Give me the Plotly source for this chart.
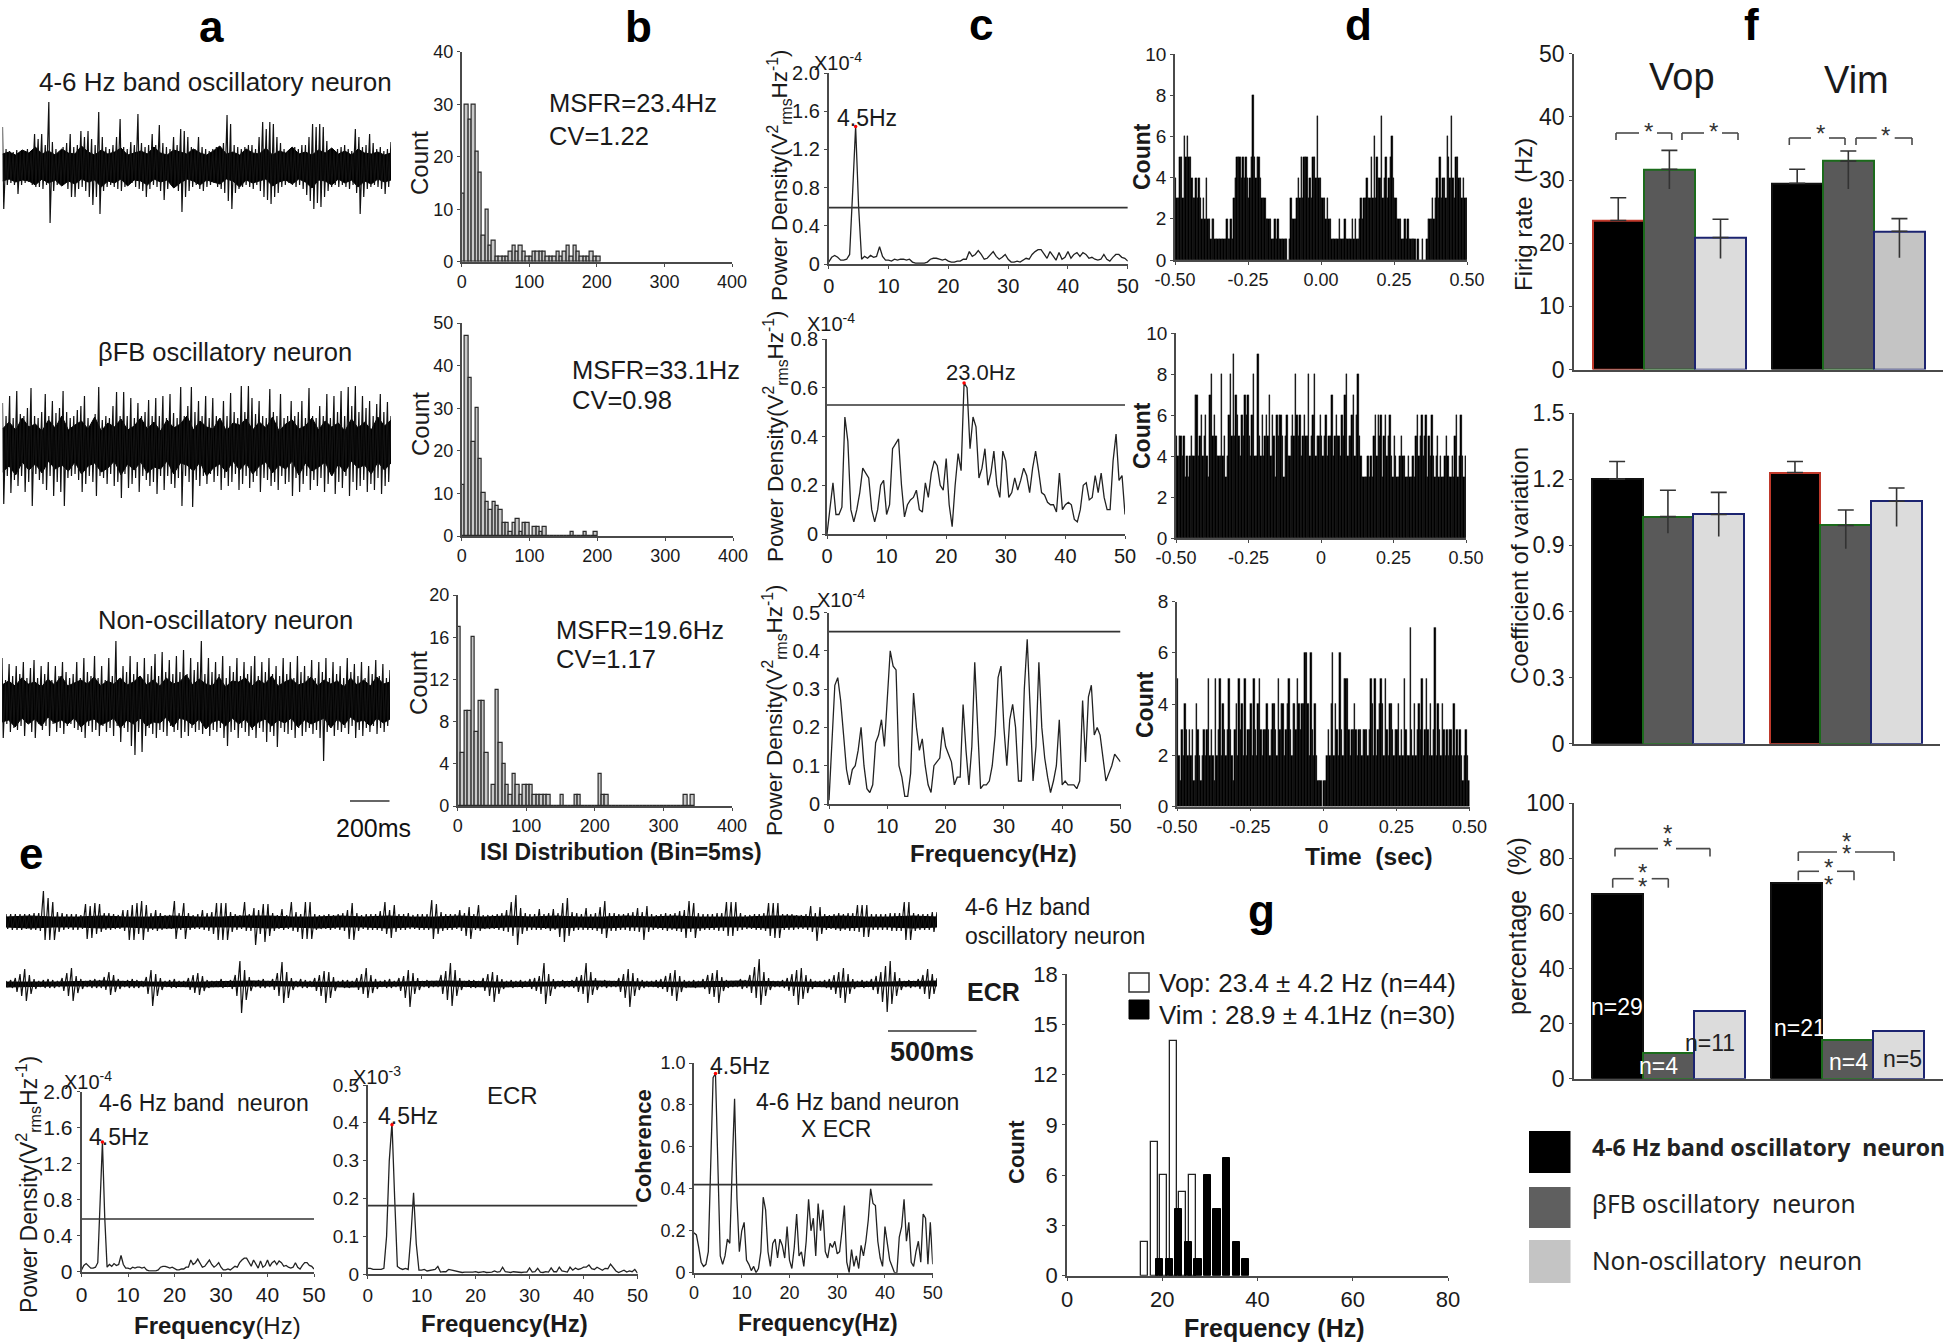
import plotly.graph_objects as go

W, H = 1946, 1344
FONT = "Liberation Sans"
INK = "#1a1a1a"
AXC = "#4a4a4a"

# ---------- raw trace amplitude columns (in display units) ----------
A1_UP = [40,18,16,15,17,15,16,18,15,33, 28,33,22,65,25,18,16,20,24,33, 20,22,36,30,36,28,22,55,30,20,
         18,22,30,48,20,18,25,22,53,24, 20,22,33,22,42,24,20,18,30,22, 38,36,30,20,18,30,20,18,16,18,
         20,18,24,52,43,22,20,18,20,22, 22,18,30,45,38,45,43,30,24,18, 16,18,20,18,22,22,30,43,40,43,
         40,26,18,16,18,20,22,18,16,38, 30,20,22,33,24,18,20,16,18,25]
A1_DN = [42,18,16,18,27,18,16,15,18,20, 20,22,18,56,24,18,18,16,22,30, 30,22,20,24,30,38,30,47,24,20,
         18,20,22,24,20,18,16,20,22,24, 30,22,18,20,24,33,22,18,20,24, 45,30,24,20,18,22,24,20,18,16,
         20,22,26,34,42,26,22,20,18,20, 22,18,24,30,33,37,30,26,20,18, 16,18,20,18,22,28,34,42,36,40,
         30,24,20,18,20,18,20,22,18,26, 47,30,22,20,18,20,22,27,20,18]
A1_BAND = [13,15,12,17,14,20,13,16,12,18,14,13,21,15,12,17,13,15,19,12,14,16,13,20,14,12,17,15,13,18,
           14,12,16,21,13,15,12,18,14,13,19,12,16,14,20,13,15,12,17,14,19,13,16,12,18,14,13,15,12,14]

A2_UP = [43,30,50,28,55,32,30,38,58,30, 28,34,52,30,45,33,38,55,34,28, 30,36,40,50,28,24,32,59,26,30,
         28,40,54,30,54,30,48,28,43,30, 34,46,30,48,30,50,28,52,33,28, 59,30,40,59,34,45,30,50,28,48,
         30,28,45,30,53,34,28,60,34,60, 48,32,45,30,28,57,34,30,52,28, 30,45,30,34,45,28,58,30,28,40,
         30,52,28,50,34,55,30,59,40,60, 34,50,38,45,30,42,52,34,44,30]
A2_DN = [58,30,47,34,40,30,46,36,60,28, 34,38,44,30,50,36,46,60,32,30, 28,34,46,38,30,36,50,30,32,38,
         28,40,36,52,28,42,38,32,46,30, 34,40,36,48,30,44,30,38,42,32, 60,30,36,61,34,40,30,38,28,36,
         30,44,32,40,36,28,44,38,30,42, 36,30,46,32,34,40,36,44,30,38, 36,50,32,46,38,30,44,34,40,32,
         46,38,30,48,36,42,30,50,36,44, 40,34,46,38,44,32,48,40,36,42]
A2_BAND = [17,24,16,28,19,22,15,26,18,30,16,21,25,17,29,15,23,19,27,16,20,28,17,24,15,26,18,22,30,16,
           25,19,17,28,15,23,21,27,16,24,18,29,15,22,26,17,20,28,16,25,19,23,15,27,18,24,16,29,20,26]

A3_UP = [44,22,38,26,36,28,40,24,34,42, 24,36,28,40,22,36,26,40,30,24, 28,40,24,44,30,26,46,24,36,22,
         44,26,61,24,36,30,46,28,40,24, 44,28,36,48,26,50,30,42,28,46, 30,52,28,44,32,40,61,28,44,30,
         40,28,46,24,36,30,44,26,40,28, 36,46,26,40,30,44,28,36,26,44, 28,40,24,46,30,36,26,42,24,40,
         30,44,24,40,28,36,24,44,30,38, 26,40,24,36,28,42,26,38,24,32]
A3_DN = [36,22,30,26,28,24,34,22,30,36, 22,28,24,34,22,30,26,32,24,22, 26,28,30,36,24,30,28,34,24,30,
         26,34,24,40,26,30,44,53,30,50, 34,26,32,36,28,30,34,24,30,28, 36,30,34,26,30,28,32,26,34,28,
         30,26,36,44,30,28,36,26,30,34, 28,36,26,30,40,30,34,45,26,30, 32,28,36,26,34,30,26,32,28,36,
         59,30,26,34,28,30,26,32,24,36, 28,34,26,30,24,32,26,30,24,28]
A3_BAND = [17,21,16,24,18,20,15,23,17,26,16,19,22,18,25,16,21,18,24,17,20,26,17,22,16,24,18,20,27,17,
           23,18,16,25,15,21,20,24,16,22,18,26,16,20,23,17,19,25,16,22,18,21,15,24,17,22,16,25,18,20]

E1_UP = [8,8,8,8,8,8,9,9,31,24, 20,10,9,8,8,8,7,18,16,19, 18,9,9,8,7,12,12,17,19,21, 17,9,12,9,7,7,21,9,19,9,
         7,8,12,9,10,19,19,19,10,8, 7,20,8,14,12,18,18,9,7,13, 7,20,10,8,20,20,8,7,7,8, 7,8,9,12,19,9,7,8,8,8,
         11,20,12,17,8,8,9,7,8,8, 8,22,18,10,8,8,8,12,9,15, 8,17,7,7,7,8,9,12,20,27, 14,9,8,8,13,8,9,13,9,19,
         24,10,9,8,14,8,9,15,21,9, 9,8,8,9,10,14,10,16,8,7, 8,9,8,9,11,12,21,19,9,8, 8,8,9,9,20,20,20,9,7,7,
         8,8,9,19,19,19,8,8,8,7, 7,8,16,9,15,8,7,8,9,8, 9,9,17,17,17,8,8,8,8,9, 9,9,20,20,9,8,8,8,10,10]
E1_DN = [7,8,8,8,7,8,8,9,18,18, 18,10,8,7,8,8,7,17,16,12, 10,8,8,7,7,9,18,18,12,18, 10,8,9,8,7,7,17,8,17,8,
         7,7,8,9,12,18,18,18,10,8, 7,9,9,23,12,20,14,9,7,8, 7,9,10,17,17,17,8,7,7,8, 7,8,9,17,18,9,7,8,8,8,
         9,12,16,10,8,8,7,7,8,8, 8,17,12,9,8,8,7,9,14,17, 8,9,7,7,7,8,9,10,14,23, 12,9,8,8,8,7,9,8,15,20,
         14,9,8,8,8,8,9,12,16,9, 9,8,8,9,9,10,18,10,8,7, 8,9,8,9,10,16,10,16,9,8, 8,8,9,9,14,14,9,8,7,7,
         8,8,9,14,16,16,8,8,8,7, 7,8,10,19,12,8,7,8,9,8, 9,9,10,15,15,8,8,8,8,9, 9,9,18,18,9,8,8,8,10,15]
E1_BAND = [5,6,5,5,6,5,5,6,5,5,6,6,5,5,6,5,6,5,5,6,5,6,5,6,5,5,6,5,6,5,5,5,6,6,5,6,5,5,6,5]

E2_UP = [3,4,6,10,15,9,5,3,4, 5,4,3,6,11,16,8,5,3, 4,5,4,7,12,9,5,3,4, 5,4,3,7,14,10,6,3,4, 5,3,3,6,9,11,8,4,3,
         3,5,3,4,9,23,14,7,3, 4,5,3,5,11,22,12,6,3, 5,4,3,6,9,13,12,7,3, 4,4,3,6,10,16,9,5,3, 4,5,3,6,8,14,11,6,3,
         4,3,3,9,13,21,14,6,3, 4,4,3,6,10,12,9,5,3, 4,3,4,3,5,6,8,21,10, 5,3,4,3,4,7,9,21,12, 6,3,4,3,3,6,10,15,11,
         6,4,3,3,4,5,8,11,14, 8,4,3,4,3,5,9,11,14, 7,4,3,3,5,4,9,17,25, 12,6,3,3,4,6,10,14,16, 9,5,3,3,4,5,9,12,16,
         10,5,3,4,3,5,8,12,18, 23,12,6,3,4,3,5,9,15,10,6]
E2_DN = [3,4,8,12,17,10,5,3,4, 4,4,3,7,12,17,9,5,3, 4,4,4,6,11,8,5,3,4, 4,4,3,10,22,12,6,3,4, 4,3,3,6,9,11,7,4,3,
         3,4,3,5,12,29,16,7,3, 4,4,3,6,12,19,14,6,3, 4,4,3,7,12,19,14,7,3, 4,4,3,6,10,14,9,5,3, 4,4,3,7,14,23,10,6,3,
         4,3,3,10,16,22,12,6,3, 4,4,3,7,12,18,10,5,3, 4,3,4,3,5,7,10,20,12, 5,3,4,3,4,8,10,19,11, 6,3,4,3,3,8,14,23,12,
         6,4,3,3,4,5,8,12,17, 8,4,3,4,3,5,10,13,19, 7,4,3,3,5,4,9,14,21, 12,6,3,3,4,7,12,21,15, 9,5,3,3,4,6,10,14,19,
         10,5,3,4,3,6,10,18,28, 20,12,6,3,4,3,5,10,15,10,6]
E2_BAND = [2,2,3,2,2,3,2,2,2,3,2,2,3,2,2,3,2,2,2,3]

# ---------- ISI histograms, 5 ms bins ----------
ISI1 = [13,30,27,30,21,17,5,10,3,4,1,1,1,1,2,3,2,3,2,1,1,2,2,2,2,1,1,1,2,1,2,3,1,3,2,1,1,1,2,1,1]
ISI2 = [12,47,37,22,30,18,10,8,6,8,7,6,3,3,1,3,4,1,3,3,0,2,2,1,2,0,0,0,0,0,0,0,1,0,0,0,1,0,0,1]
ISI3 = [17,5,9,9,16,7,10,10,5,0,2,11,6,4,2,1,3,2,1,2,2,2,1,1,1,1,1,0,0,0,1,0,0,0,1,1,0,0,0,0,0,3,1,1,
        0,0,0,0,0,0,0,0,0,0,0,0,0,0,0,0,0,0,0,0,0,0,1,0,1]

# ---------- power spectra on a 0.5 Hz grid ----------
PSD1 = [.02,.07,.09,.07,.04,.04,.05,.1,.75,1.44,.6,.05,.08,.06,.09,.07,.08,.18,.08,.04,.04,.03,.05,.04,.05,.05,.04,.05,.02,.01,
        .01,.01,.01,.02,.05,.06,.06,.05,.04,.05,.03,.02,.02,.03,.03,.05,.05,.13,.08,.1,.14,.1,.05,.06,.1,.13,.08,.05,.07,.1,
        .05,.02,.02,.03,.02,.04,.06,.05,.1,.13,.15,.15,.1,.06,.13,.08,.04,.12,.05,.07,.13,.06,.1,.12,.08,.12,.1,.06,.07,.05,
        .04,.05,.1,.05,.03,.07,.1,.1,.07,.06,.03]
PSD2 = [0,.1,.21,.08,.08,.11,.48,.38,.1,.05,.1,.17,.27,.25,.23,.1,.05,.1,.2,.22,.08,.12,.35,.37,.39,.2,.07,.12,.14,.15,
        .18,.1,.09,.21,.15,.25,.3,.28,.2,.18,.31,.12,.03,.2,.33,.26,.62,.6,.35,.48,.44,.23,.27,.35,.2,.25,.34,.2,.15,.34,
        .3,.15,.17,.23,.18,.22,.27,.24,.17,.27,.34,.26,.17,.16,.13,.12,.12,.09,.25,.1,.12,.13,.12,.06,.05,.1,.2,.21,.14,.15,
        .24,.17,.25,.15,.1,.1,.3,.41,.22,.24,.08]
PSD3 = [.01,.15,.31,.33,.27,.18,.09,.05,.09,.1,.14,.2,.1,.04,.03,.05,.16,.18,.22,.15,.28,.4,.36,.35,.1,.07,.02,.02,.08,.29,
        .2,.14,.17,.1,.05,.03,.1,.11,.12,.2,.15,.13,.11,.05,.07,.07,.26,.14,.05,.15,.37,.2,.04,.05,.05,.06,.1,.18,.33,.36,
        .2,.1,.22,.26,.2,.06,.06,.3,.43,.25,.06,.15,.37,.2,.12,.07,.03,.06,.1,.22,.05,.06,.05,.05,.05,.04,.06,.27,.11,.28,
        .31,.18,.2,.18,.12,.06,.08,.1,.13,.12,.11]
PSD_ECR = [.015,.015,.012,.012,.012,.012,.015,.1,.3,.4,.2,.02,.015,.012,.015,.012,.1,.215,.08,.01,.01,.012,.008,.01,.012,.012,.02,.005,.006,.006,
           .012,.01,.008,.007,.005,.004,.005,.005,.004,.005,.006,.004,.005,.006,.004,.004,.005,.008,.005,.006,.018,.006,.005,.004,.006,.005,.005,.004,.005,.005,
           .016,.005,.006,.015,.005,.004,.006,.005,.016,.006,.006,.018,.008,.006,.005,.018,.01,.016,.012,.014,.018,.018,.024,.014,.012,.018,.014,.01,.015,.014,
           .026,.016,.008,.004,.006,.01,.005,.008,.006,.012,.002]
COH = [.19,.18,.12,.05,.03,.04,.1,.5,.93,.95,.5,.08,.04,.08,.16,.14,.5,.83,.35,.1,.2,.24,.06,.04,.01,.03,0,.02,.1,.36,
       .3,.1,.03,.14,.16,.07,.16,.13,.07,.22,.06,.02,.12,.28,.08,.1,.03,.15,.35,.2,.26,.08,.33,.2,.3,.1,.07,.14,.12,.15,
       .09,.1,.2,.32,.05,0,.11,.03,.08,.02,.13,.08,.15,.25,.4,.33,.32,.15,.07,.03,.22,.15,.06,.03,0,0,.17,.22,.35,.15,
       .24,.05,.03,.1,.15,.05,.28,.26,.04,.24,.04]

# ---------- time histograms, 200 bins over -0.5..0.5 s ----------
D1 = [4,3,3,5,5,3,6,5,6,5,5,4,3,3,4,3,4,3,2,3, 2,4,2,2,1,2,2,1,1,1,1,1,1,1,1,2,1,1,2,1,
      3,4,5,5,5,4,5,4,5,4,3,4,5,8,5,4,5,5,4,3, 3,3,2,2,2,2,1,1,2,1,2,1,1,1,1,1,1,0,1,3,
      2,2,2,3,4,3,5,3,5,5,5,3,4,3,5,5,4,7,4,4, 3,3,3,2,3,2,2,1,1,1,1,1,2,1,1,1,2,1,1,1,
      1,2,1,2,1,1,2,3,2,3,3,4,3,3,5,3,6,3,5,4, 4,7,3,4,5,3,4,5,6,4,3,3,2,2,2,1,1,2,1,2,
      1,1,1,1,1,0,1,0,0,1,0,0,1,2,2,2,3,2,3,4, 3,5,3,4,4,3,6,5,4,7,4,3,5,5,4,4,3,4,3,3]
D2 = [5,4,5,5,4,5,3,4,3,4,5,4,4,7,7,4,5,6,4,5, 6,4,3,7,8,5,6,5,4,4,4,8,4,5,3,4,6,8,5,9,
      5,7,6,5,4,6,5,7,6,7,5,4,6,8,4,4,9,5,4,6, 4,5,6,5,7,4,6,5,3,6,5,6,6,5,3,5,6,4,4,5,
      6,5,8,6,5,6,4,5,6,5,5,8,4,5,6,8,4,5,5,6, 5,4,5,6,4,5,5,7,4,5,6,5,5,4,6,5,7,8,4,5,
      5,6,7,4,6,8,5,4,3,3,3,3,4,3,4,3,5,6,4,6, 5,6,3,5,6,4,5,6,4,3,5,4,3,3,4,5,4,4,3,3,
      4,3,3,4,3,5,6,4,5,6,4,5,6,3,5,4,6,4,3,4, 5,3,4,3,3,4,5,4,3,3,4,3,5,6,3,4,6,4,3,4]
D3 = [5,2,1,3,2,4,3,2,3,2,3,1,2,4,3,2,1,2,3,2, 3,5,2,3,2,1,5,2,3,5,2,4,3,2,3,5,3,2,1,3,
      4,2,5,3,4,2,5,2,3,3,4,2,5,3,2,4,5,3,2,3, 3,4,3,2,3,4,4,3,2,5,3,4,4,2,3,4,5,3,2,4,
      4,3,5,4,3,4,4,6,6,4,2,6,3,2,4,2,1,1,1,0, 1,1,2,3,2,4,6,2,4,3,2,6,3,2,5,5,5,3,2,3,
      3,4,3,2,3,3,2,3,3,3,2,3,5,4,2,5,2,3,4,5, 4,2,5,3,2,4,4,3,2,3,3,4,2,3,2,5,3,2,2,7,
      3,2,4,2,3,4,3,5,2,3,5,3,2,4,2,3,7,2,4,3, 2,4,3,2,3,2,3,3,2,4,2,3,2,3,2,1,2,3,2,1]

# ---------- bar panels ----------
RATE = [23.6, 31.7, 20.9, 29.5, 33.0, 21.9]
RATE_PLUS = [3.6, 3.0, 2.9, 2.2, 1.6, 2.0]
RATE_MINUS = [0.0, 3.1, 3.3, 0.0, 4.4, 4.2]
CV_VAL = [1.20, 1.03, 1.04, 1.23, 0.99, 1.10]
CV_PLUS = [.08, .12, .10, .05, .07, .06]
CV_MINUS = [0.0, .075, .10, 0.0, .105, .115]
PCT = [66.9, 9.3, 24.6, 71.0, 14.0, 17.4]
PCT_N = ["n=29", "n=4", "n=11", "n=21", "n=4", "n=5"]
GROUP_POS = [0, 1, 2, 3.5, 4.5, 5.5]

# ---------- firing-frequency histogram ----------
G_VOP_X = [16.3, 18.3, 20.3, 22.3, 24.3, 26.3]
G_VOP_N = [2, 8, 6, 14, 5, 6]
G_VIM_X = [19.5, 21.5, 23.5, 25.5, 27.5, 29.5, 31.5, 33.5, 35.5, 37.5]
G_VIM_N = [1, 1, 4, 2, 1, 6, 4, 7, 2, 1]

fig = go.Figure()
layout = dict(width=W, height=H, margin=dict(l=0, r=0, t=0, b=0, autoexpand=False), autosize=False, showlegend=False,
              paper_bgcolor="white", plot_bgcolor="rgba(0,0,0,0)", bargap=0, barmode="overlay",
              annotations=[], shapes=[])
n_ax = [0]


def axes(x0, x1, y0, y1, xr, yr, xt=None, yt=None, xl=None, yl=None, fs=20, xs=None):
    n_ax[0] += 1
    i = n_ax[0]
    sx = "" if i == 1 else str(i)
    base = dict(showgrid=False, zeroline=False, linecolor=AXC, linewidth=1.6, ticks="outside", automargin=False,
                tickcolor=AXC, ticklen=3, tickwidth=1.2, fixedrange=True, showline=True, tickmode="array")
    layout["xaxis" + sx] = dict(base, domain=[x0 / W, x1 / W], range=xr, anchor="y" + sx,
                                tickvals=xt or [], ticktext=xl or [str(v) for v in (xt or [])],
                                tickfont=dict(family=FONT, size=xs or fs, color=INK))
    layout["yaxis" + sx] = dict(base, domain=[1 - y1 / H, 1 - y0 / H], range=yr, anchor="x" + sx,
                                tickvals=yt or [], ticktext=yl or [str(v) for v in (yt or [])],
                                tickfont=dict(family=FONT, size=fs, color=INK))
    return dict(xaxis="x" + sx, yaxis="y" + sx)


def hidden_axes(x0, x1, y0, y1, xr, yr):
    n_ax[0] += 1
    i = n_ax[0]
    sx = "" if i == 1 else str(i)
    layout["xaxis" + sx] = dict(domain=[x0 / W, x1 / W], range=xr, visible=False, anchor="y" + sx, fixedrange=True, automargin=False)
    layout["yaxis" + sx] = dict(domain=[1 - y1 / H, 1 - y0 / H], range=yr, visible=False, anchor="x" + sx, fixedrange=True, automargin=False)
    return dict(xaxis="x" + sx, yaxis="y" + sx)


def T(x, y, s, size=22, anchor="center", angle=0, color=INK):
    layout["annotations"].append(dict(x=x / W, y=1 - y / H, xref="paper", yref="paper", text=s, showarrow=False,
                                      xanchor=anchor, yanchor="middle", textangle=angle,
                                      font=dict(family=FONT, size=size, color=color)))


def seg(x0, y0, x1, y1, width=1.6, color="#4a4a4a"):
    layout["shapes"].append(dict(type="line", xref="paper", yref="paper", x0=x0 / W, x1=x1 / W,
                                 y0=1 - y0 / H, y1=1 - y1 / H, line=dict(color=color, width=width)))


def bracket(x0, x1, y, drop, cx):
    seg(x0, y + drop, x0, y)
    seg(x0, y, cx - 9, y)
    seg(cx + 9, y, x1, y)
    seg(x1, y, x1, y + drop)


def waveform(x0, x1, cy, up, dn, band, halfh=100):
    ref = hidden_axes(x0, x1, cy - halfh, cy + halfh, [0, len(up) - 1], [-halfh, halfh])
    bx = [i * (len(up) - 1) / (len(band) - 1) for i in range(len(band))]
    fig.add_trace(go.Scatter(x=bx + bx[::-1], y=band + [-b for b in band], fill="toself", fillcolor="black",
                             mode="lines", line=dict(color="black", width=1), hoverinfo="skip", **ref))
    xs, ys = [], []
    for i, (u, d) in enumerate(zip(up, dn)):
        xs += [i, i + 0.35]
        ys += [u, -d]
    fig.add_trace(go.Scatter(x=xs, y=ys, mode="lines", line=dict(color="#111", width=1.2), hoverinfo="skip", **ref))


def isi(x0, x1, y0, y1, ymax, yt, vals):
    ref = axes(x0, x1, y0, y1, [0, 400], [0, ymax], [0, 100, 200, 300, 400], yt, fs=18)
    fig.add_trace(go.Bar(x=[2.5 + 5 * i for i in range(len(vals))], y=vals, width=5,
                         marker=dict(color="#c9c9c9", line=dict(color="#2a2a2a", width=1.2)), **ref))


def spectrum(x0, x1, y0, y1, ymax, yt, yl, vals, thr, peak=None, fs=20):
    ref = axes(x0, x1, y0, y1, [0, 50], [0, ymax], [0, 10, 20, 30, 40, 50], yt, None, yl, fs=fs)
    fq = [0.5 * i for i in range(len(vals))]
    fig.add_trace(go.Scatter(x=fq, y=vals, mode="lines", line=dict(color="#222", width=1.3), **ref))
    fig.add_trace(go.Scatter(x=[0, 50], y=[thr, thr], mode="lines", line=dict(color="#333", width=1.6), **ref))
    if peak:
        fig.add_trace(go.Scatter(x=[peak[0]], y=[peak[1]], mode="markers", marker=dict(color="red", size=3.5), **ref))


def xcorr(x0, x1, y0, y1, ymax, yt, vals, xl):
    ref = axes(x0, x1, y0, y1, [-.5, .5], [0, ymax], [-.5, -.25, 0, .25, .5], yt, xl, None, fs=19, xs=18)
    fig.add_trace(go.Bar(x=[-.4975 + .005 * i for i in range(len(vals))], y=vals, width=.005,
                         marker=dict(color="black", line=dict(color="black", width=0.3)), **ref))


def grouped(x0, x1, y0, y1, left, right, ymax, yt, yl, vals, edges, plus=None, minus=None, fills=None):
    u = (right - left) / 6.5
    xr = [-0.5 - (left - x0) / u, 6.0 + (x1 - right) / u]
    ref = axes(x0, x1, y0, y1, xr, [0, ymax], [], yt, None, yl, fs=23)
    fills = fills or ["black", "#595959", "#dcdcdc", "black", "#595959", "#dcdcdc"]
    fig.add_trace(go.Bar(x=GROUP_POS, y=vals, width=1, marker=dict(color=fills, line=dict(color=edges, width=2)), **ref))
    if plus:
        fig.add_trace(go.Scatter(x=GROUP_POS, y=vals, mode="markers", marker=dict(opacity=0, size=1),
                                 error_y=dict(type="data", symmetric=False, array=plus, arrayminus=[0] * 6,
                                              color="#333", thickness=1.6, width=8), **ref))
        fig.add_trace(go.Scatter(x=GROUP_POS, y=vals, mode="markers", marker=dict(opacity=0, size=1),
                                 error_y=dict(type="data", symmetric=False, array=[0] * 6, arrayminus=minus,
                                              color="#333", thickness=1.6, width=0), **ref))
    return ref


# ----- panel a -----
waveform(2.5, 391, 167, A1_UP, A1_DN, A1_BAND)
waveform(2.5, 391, 446, A2_UP, A2_DN, A2_BAND)
waveform(2, 390, 702, A3_UP, A3_DN, A3_BAND)
T(215, 82, "4-6 Hz band oscillatory neuron", 26)
T(225, 352, "βFB oscillatory neuron", 25.5)
T(225, 620, "Non-oscillatory neuron", 25.5)
seg(350, 801, 389.5, 801, 2, "#666")
T(373, 828, "200ms", 25, color="#111")

# ----- panel b -----
isi(461.7, 732, 51.7, 261.7, 40, [0, 10, 20, 30, 40], ISI1)
isi(461.7, 733, 323, 536, 50, [0, 10, 20, 30, 40, 50], ISI2)
isi(457.7, 732, 595, 806, 20, [0, 4, 8, 12, 16, 20], ISI3)
T(420, 163, "Count", 24, angle=-90)
T(420, 424, "Count", 24, angle=-90)
T(418, 683, "Count", 24, angle=-90)
T(546.7, 103, "MSFR=23.4Hz", 25.5, "left")
T(546.7, 136, "CV=1.22", 25.5, "left")
T(569.7, 370, "MSFR=33.1Hz", 25.5, "left")
T(569.7, 400, "CV=0.98", 25.5, "left")
T(554, 630, "MSFR=19.6Hz", 25.5, "left")
T(554, 659, "CV=1.17", 25.5, "left")
T(621, 852, "<b>ISI Distribution (Bin=5ms)</b>", 23)

# ----- panel c -----
PD = "Power Density(V<sup>2</sup><sub>rms</sub>Hz<sup>-1</sup>)"
spectrum(828.7, 1127.8, 73, 264, 2.0, [0, .4, .8, 1.2, 1.6, 2.0], ["0", "0.4", "0.8", "1.2", "1.6", "2.0"], PSD1, .59, (4.5, 1.44))
spectrum(827, 1125, 339, 534, .8, [0, .2, .4, .6, .8], ["0", "0.2", "0.4", "0.6", "0.8"], PSD2, .529, (23, .62))
spectrum(829, 1120.5, 612.5, 804, .5, [0, .1, .2, .3, .4, .5], ["0", "0.1", "0.2", "0.3", "0.4", "0.5"], PSD3, .45)
T(779, 175, PD, 22.5, angle=-90)
T(776, 436, PD, 22.5, angle=-90)
T(774, 710, PD, 22.5, angle=-90)
T(812, 61, "X10<sup>-4</sup>", 20, "left")
T(805, 322, "X10<sup>-4</sup>", 20, "left")
T(815, 598, "X10<sup>-4</sup>", 20, "left")
T(867, 118, "4.5Hz", 23)
T(981, 373, "23.0Hz", 22)
T(993, 853, "<b>Frequency(Hz)</b>", 24)

# ----- panel d -----
xcorr(1175, 1467, 54, 260, 10, [0, 2, 4, 6, 8, 10], D1, ["-0.50", "-0.25", "0.00", "0.25", "0.50"])
xcorr(1176, 1466, 333, 538, 10, [0, 2, 4, 6, 8, 10], D2, ["-0.50", "-0.25", "0", "0.25", "0.50"])
xcorr(1177, 1469.5, 601.6, 806.5, 8, [0, 2, 4, 6, 8], D3, ["-0.50", "-0.25", "0", "0.25", "0.50"])
T(1142, 157, "<b>Count</b>", 23, angle=-90)
T(1142, 436, "<b>Count</b>", 23, angle=-90)
T(1145, 705, "<b>Count</b>", 23, angle=-90)
T(1369, 856, "<b>Time  (sec)</b>", 24.5)

# ----- panel e -----
waveform(6, 937, 922, E1_UP, E1_DN, E1_BAND, 40)
waveform(6, 937, 984, E2_UP, E2_DN, E2_BAND, 40)
T(963, 907, "4-6 Hz band", 23, "left")
T(963, 936, "oscillatory neuron", 23, "left")
T(965, 992, "<b>ECR</b>", 25, "left")
seg(888, 1031, 976.5, 1031, 2, "#666")
T(932, 1052, "<b>500ms</b>", 27)
spectrum(81.5, 314, 1091.7, 1271.7, 2.0, [0, .4, .8, 1.2, 1.6, 2.0], ["0", "0.4", "0.8", "1.2", "1.6", "2.0"], PSD1, .585, (4.5, 1.44), fs=21)
spectrum(367.7, 637.5, 1085, 1274, .5, [0, .1, .2, .3, .4, .5], ["0", "0.1", "0.2", "0.3", "0.4", "0.5"], PSD_ECR, .181, (4.5, .395), fs=19)
spectrum(694, 932.7, 1063, 1272.7, 1.0, [0, .2, .4, .6, .8, 1.0], ["0", "0.2", "0.4", "0.6", "0.8", "1.0"], COH, .42, (4.5, .95), fs=18)
T(28, 1185, PD, 23, angle=-90)
T(643, 1146, "<b>Coherence</b>", 22, angle=-90)
T(62, 1080, "X10<sup>-4</sup>", 20, "left")
T(351, 1075, "X10<sup>-3</sup>", 20, "left")
T(204, 1103, "4-6 Hz band  neuron", 23)
T(119, 1137, "4.5Hz", 23)
T(408, 1116, "4.5Hz", 23)
T(512, 1095, "ECR", 24)
T(740, 1066, "4.5Hz", 23)
T(857, 1102, "4-6 Hz band neuron", 23)
T(836, 1129, "X ECR", 23)
T(217, 1325, "<b>Frequency</b>(Hz)", 24)
T(505, 1323, "<b>Frequency(Hz)</b>", 24)
T(818, 1323, "<b>Frequency(Hz)</b>", 23)

# ----- panel f -----
RED, GRN, NAVY, BLK = "#c0392b", "#1b6b1b", "#1c2470", "#111111"
grouped(1574, 1943, 53.7, 369.6, 1592.7, 1925, 50, [0, 10, 20, 30, 40, 50], None, RATE,
        [RED, GRN, NAVY, BLK, GRN, NAVY], RATE_PLUS, RATE_MINUS,
        ["black", "#595959", "#dcdcdc", "black", "#595959", "#c4c4c4"])
grouped(1574, 1940, 413, 743.8, 1591.7, 1922, 1.5, [0, .3, .6, .9, 1.2, 1.5], ["0", "0.3", "0.6", "0.9", "1.2", "1.5"], CV_VAL,
        [BLK, GRN, NAVY, RED, GRN, NAVY], CV_PLUS, CV_MINUS)
grouped(1574, 1943, 803, 1078.8, 1591.7, 1924, 100, [0, 20, 40, 60, 80, 100], None, PCT,
        [BLK, GRN, NAVY, BLK, GRN, NAVY])
T(1682, 77, "Vop", 38)
T(1856, 80, "Vim", 38)
T(1523, 215, "Firig rate  (Hz)", 24, angle=-90)
T(1520, 566, "Coefficient of variation", 24, angle=-90)
T(1517, 926, "percentage  (%)", 25, angle=-90)
bracket(1616, 1671.7, 133, 7, 1648)
bracket(1682, 1738, 133, 7, 1713)
bracket(1789.3, 1845, 138, 7, 1820)
bracket(1856, 1912, 138, 7, 1885.7)
for x, y in [(1648, 132), (1713, 132), (1820, 134), (1885.7, 135)]:
    T(x, y, "*", 24, color="#333")
bracket(1615, 1710, 848.6, 8, 1667)
bracket(1612.7, 1668.3, 878.7, 9, 1642.7)
bracket(1798.3, 1894, 852, 9, 1846)
bracket(1798.3, 1854, 871.3, 9, 1828)
for x, y in [(1667, 833), (1667, 846), (1642.7, 872), (1642.7, 886), (1846, 841), (1846, 853), (1828, 867), (1828, 884)]:
    T(x, y, "*", 24, color="#333")
for x, y, s, c in zip([1617, 1658, 1710, 1800, 1848, 1902], [1007, 1066, 1043, 1028, 1062, 1059], PCT_N,
                      ["white", "white", "#222", "white", "white", "#222"]):
    T(x, y, s, 23, color=c)

for y0, y1, col, label, fsz, off in [
    (1131, 1173, "black", "<b>4-6 Hz band oscillatory  neuron</b>", 23, 16),
    (1187, 1228, "#5f5f5f", "βFB oscillatory  neuron", 24.5, 16),
    (1240, 1283, "#c4c4c4", "Non-oscillatory  neuron", 24.5, 20),
]:
    layout["shapes"].append(dict(type="rect", xref="paper", yref="paper", x0=1529 / W, x1=1570.5 / W,
                                 y0=1 - y1 / H, y1=1 - y0 / H, fillcolor=col, line=dict(width=0)))
    layout["annotations"].append(dict(x=1590 / W, y=1 - (y0 + off) / H, xref="paper", yref="paper", text=label,
                                      showarrow=False, xanchor="left", yanchor="middle",
                                      font=dict(family="Noto Sans", size=fsz, color="#222")))

# ----- panel g -----
ref = axes(1067, 1448, 974, 1275.7, [0, 80], [0, 18], [0, 20, 40, 60, 80], [0, 3, 6, 9, 12, 15, 18], fs=22)
fig.add_trace(go.Bar(x=G_VOP_X, y=G_VOP_N, width=1.5, marker=dict(color="white", line=dict(color="#222", width=1.3)), **ref))
fig.add_trace(go.Bar(x=G_VIM_X, y=G_VIM_N, width=1.5, marker=dict(color="black", line=dict(color="black", width=1)), **ref))
T(1016, 1152, "<b>Count</b>", 22, angle=-90)
T(1274, 1328, "<b>Frequency (Hz)</b>", 25)
layout["shapes"].append(dict(type="rect", xref="paper", yref="paper", x0=1129 / W, x1=1149 / W, y0=1 - 992 / H, y1=1 - 973 / H,
                             fillcolor="white", line=dict(color="#333", width=1.5)))
layout["shapes"].append(dict(type="rect", xref="paper", yref="paper", x0=1129 / W, x1=1149 / W, y0=1 - 1019 / H, y1=1 - 1000 / H,
                             fillcolor="black", line=dict(color="black", width=1)))
T(1157, 983, "Vop: 23.4 ± 4.2 Hz (n=44)", 26, "left")
T(1157, 1015, "Vim : 28.9 ± 4.1Hz (n=30)", 26, "left")

# ----- panel letters -----
for x, y, s in [(211, 27, "a"), (638, 27, "b"), (981, 24, "c"), (1358, 24, "d"), (1751, 24, "f"), (31, 853, "e"), (1261, 910, "g")]:
    T(x, y, "<b>" + s + "</b>", 44, color="black")

fig.update_layout(**layout)
fig.write_html("out.html", post_script="document.body.style.margin='0';", config={"displayModeBar": False})
